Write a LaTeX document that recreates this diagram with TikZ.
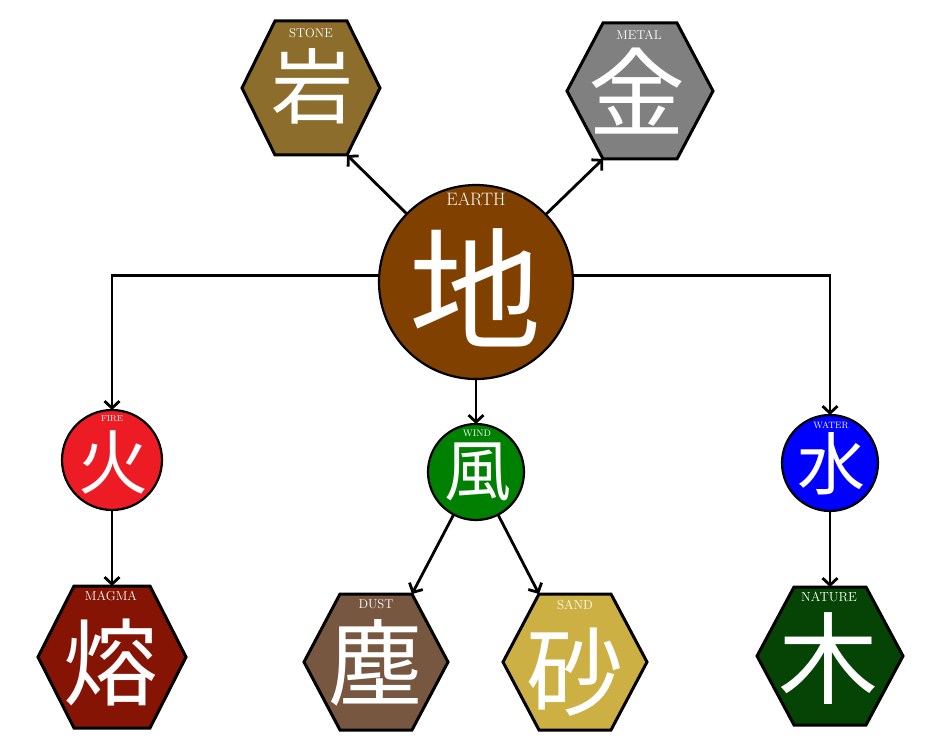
\documentclass[tikz,border=0pt]{standalone}
\usepackage{fontspec}
\newfontfamily\cjk{Noto Sans CJK JP}
\usetikzlibrary{arrows.meta}
\definecolor{stonec}{HTML}{8C6D2C}
\definecolor{metalc}{HTML}{808080}
\definecolor{earthc}{HTML}{804000}
\definecolor{firec}{HTML}{ED1C24}
\definecolor{windc}{HTML}{008000}
\definecolor{waterc}{HTML}{0000FF}
\definecolor{magmac}{HTML}{861405}
\definecolor{dustc}{HTML}{785741}
\definecolor{sandc}{HTML}{CDB044}
\definecolor{naturec}{HTML}{054405}
\newcommand\hexnode[7]{%
  \node[hexbox, minimum width=2*#4pt, minimum height=2*#5pt] (#1) at (#2,#3) {};
  \draw[hexline, fill=#7] (#1.west) -- ([xshift=#6pt]#1.north west) -- ([xshift=-#6pt]#1.north east)
     -- (#1.east) -- ([xshift=-#6pt]#1.south east) -- ([xshift=#6pt]#1.south west) -- cycle;
}
\tikzset{
  hexbox/.style={draw=none, rectangle, inner sep=0pt, outer sep=0pt},
  hexline/.style={line width=3pt, draw=black, line join=miter},
  disc/.style={circle, draw=black, line width=2.2pt, inner sep=0pt, outer sep=0pt},
  lbl/.style={text=white, inner sep=0pt, anchor=center},
  kanji/.style={text=white, inner sep=0pt, anchor=center},
  arr/.style={line width=2.8pt, -{Straight Barb[length=7pt,width=15pt,line width=2.8pt]}},
}
\begin{document}
\begin{tikzpicture}[x=1pt,y=-1pt]
\useasboundingbox (0,0) rectangle (947,754);
% hexagons
\hexnode{stone}{311}{88}{69}{67}{33}{stonec}
\hexnode{metal}{640}{91}{73}{68}{36}{metalc}
\hexnode{magma}{112}{657}{74}{71}{36}{magmac}
\hexnode{dust}{376}{662}{72}{68}{36}{dustc}
\hexnode{sand}{575}{662}{72}{68}{36}{sandc}
\hexnode{nature}{830}{656}{73}{69}{37}{naturec}
% circles
\node[disc, fill=earthc, minimum size=194pt] (earth) at (476,282) {};
\node[disc, fill=firec, minimum size=100pt] (fire) at (112,460) {};
\node[disc, fill=windc, minimum size=96pt] (wind) at (476,472) {};
\node[disc, fill=waterc, minimum size=96pt] (water) at (830,463) {};
% labels
\node[lbl, font=\fontsize{12.8}{12.8}\selectfont] (stoneL) at (311,33) {STONE};
\node[lbl, font=\fontsize{12.8}{12.8}\selectfont] (metalL) at (639,35) {METAL};
\node[lbl, font=\fontsize{18}{18}\selectfont] (earthL) at (476,199) {EARTH};
\node[lbl, font=\fontsize{8.8}{8.8}\selectfont] (fireL) at (112,419) {FIRE};
\node[lbl, font=\fontsize{9.4}{9.4}\selectfont] (windL) at (477,433) {WIND};
\node[lbl, font=\fontsize{9.2}{9.2}\selectfont] (waterL) at (831,425) {WATER};
\node[lbl, font=\fontsize{13}{13}\selectfont] (magmaL) at (111,596) {MAGMA};
\node[lbl, font=\fontsize{12.8}{12.8}\selectfont] (dustL) at (376,604) {DUST};
\node[lbl, font=\fontsize{13}{13}\selectfont] (sandL) at (575,605) {SAND};
\node[lbl, font=\fontsize{13.2}{13.2}\selectfont] (natureL) at (829,597) {NATURE};
% kanji
\node[kanji, font=\cjk\fontsize{82}{82}\selectfont] (stoneK) at (312,86) {岩};
\node[kanji, font=\cjk\fontsize{97}{97}\selectfont] (metalK) at (637,91) {金};
\node[kanji, font=\cjk\fontsize{132}{132}\selectfont] (earthK) at (475,288) {地};
\node[kanji, font=\cjk\fontsize{70}{70}\selectfont] (fireK) at (113,462) {火};
\node[kanji, font=\cjk\fontsize{67}{67}\selectfont] (windK) at (478,472) {風};
\node[kanji, font=\cjk\fontsize{68}{68}\selectfont] (waterK) at (831,464) {水};
\node[kanji, font=\cjk\fontsize{95}{95}\selectfont] (magmaK) at (111,662) {熔};
\node[kanji, font=\cjk\fontsize{94}{94}\selectfont] (dustK) at (375,663) {塵};
\node[kanji, font=\cjk\fontsize{97}{97}\selectfont] (sandK) at (575,672) {砂};
\node[kanji, font=\cjk\fontsize{100}{100}\selectfont] (natureK) at (828,659) {木};
% connectors
\draw[arr] (earth) -- ([xshift=-33pt]stone.south east);
\draw[arr] (earth) -- ([xshift=36pt]metal.south west);
\draw[arr] (earth.176) -| (fire.north);
\draw[arr] (earth.4) -| (water.north);
\draw[arr] (earth.south) -- (wind.north);
\draw[arr] (wind) -- ([xshift=-36pt]dust.north east);
\draw[arr] (wind) -- ([xshift=36pt]sand.north west);
\draw[arr] (fire.south) -- (magma.north);
\draw[arr] (water.south) -- (nature.north);
\end{tikzpicture}
\end{document}
